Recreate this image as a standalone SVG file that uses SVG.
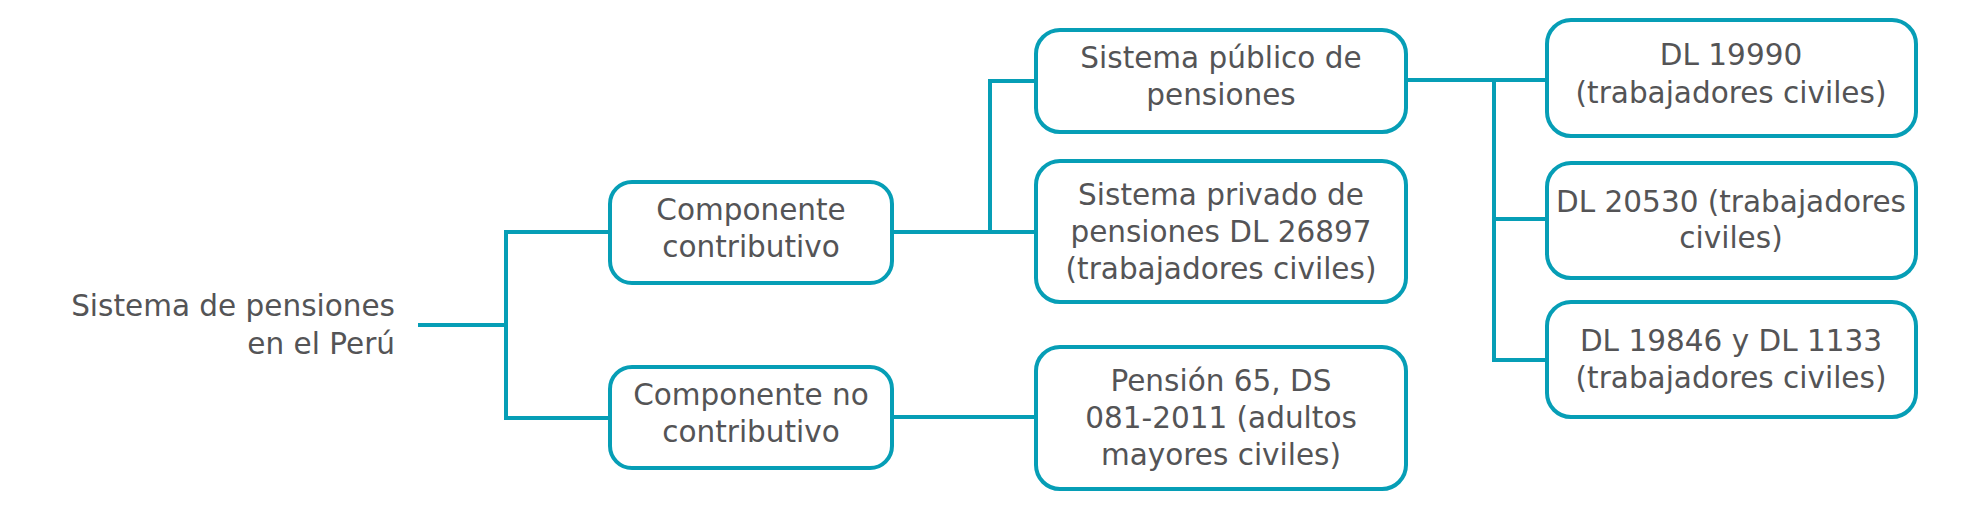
<svg xmlns="http://www.w3.org/2000/svg" width="1969" height="528" viewBox="0 0 1969 528">
<style>
.box{fill:#fff;stroke:#069eb6;stroke-width:4}
.ln{fill:none;stroke:#069eb6;stroke-width:4;stroke-linejoin:miter}
text{font-family:"DejaVu Sans","Liberation Sans",sans-serif;font-size:29.5px;fill:#545456}
.c{text-anchor:middle}
.r{text-anchor:end}
</style>
<rect width="1969" height="528" fill="#fff"/>
<g id="connectors">
<path class="ln" d="M418,325 H506"/>
<path class="ln" d="M610,232 H506 V418 H610"/>
<path class="ln" d="M892,232 H1036"/>
<path class="ln" d="M990,232 V81 H1036"/>
<path class="ln" d="M892,417 H1036"/>
<path class="ln" d="M1406,80 H1547"/>
<path class="ln" d="M1494,80 V360 H1547"/>
<path class="ln" d="M1494,219 H1547"/>
</g>
<g id="root">
<text class="r" x="395" y="316">Sistema de pensiones</text>
<text class="r" x="395" y="354">en el Perú</text>
</g>
<g id="comp-contributivo">
<rect class="box" x="610" y="182" width="282" height="101" rx="22"/>
<text class="c" x="751" y="220">Componente</text>
<text class="c" x="751" y="257">contributivo</text>
</g>
<g id="comp-no-contributivo">
<rect class="box" x="610" y="367" width="282" height="101" rx="22"/>
<text class="c" x="751" y="405">Componente no</text>
<text class="c" x="751" y="442">contributivo</text>
</g>
<g id="sistema-publico">
<rect class="box" x="1036" y="30" width="370" height="102" rx="24"/>
<text class="c" x="1221" y="68">Sistema público de</text>
<text class="c" x="1221" y="105">pensiones</text>
</g>
<g id="sistema-privado">
<rect class="box" x="1036" y="161" width="370" height="141" rx="24"/>
<text class="c" x="1221" y="205">Sistema privado de</text>
<text class="c" x="1221" y="242">pensiones DL 26897</text>
<text class="c" x="1221" y="279">(trabajadores civiles)</text>
</g>
<g id="pension-65">
<rect class="box" x="1036" y="347" width="370" height="142" rx="24"/>
<text class="c" x="1221" y="391">Pensión 65, DS</text>
<text class="c" x="1221" y="428">081-2011 (adultos</text>
<text class="c" x="1221" y="465">mayores civiles)</text>
</g>
<g id="dl-19990">
<rect class="box" x="1547" y="20" width="369" height="116" rx="24"/>
<text class="c" x="1731" y="65">DL 19990</text>
<text class="c" x="1731" y="103">(trabajadores civiles)</text>
</g>
<g id="dl-20530">
<rect class="box" x="1547" y="163" width="369" height="115" rx="24"/>
<text class="c" x="1731" y="212">DL 20530 (trabajadores</text>
<text class="c" x="1731" y="248">civiles)</text>
</g>
<g id="dl-19846">
<rect class="box" x="1547" y="302" width="369" height="115" rx="24"/>
<text class="c" x="1731" y="351">DL 19846 y DL 1133</text>
<text class="c" x="1731" y="388">(trabajadores civiles)</text>
</g>
</svg>
